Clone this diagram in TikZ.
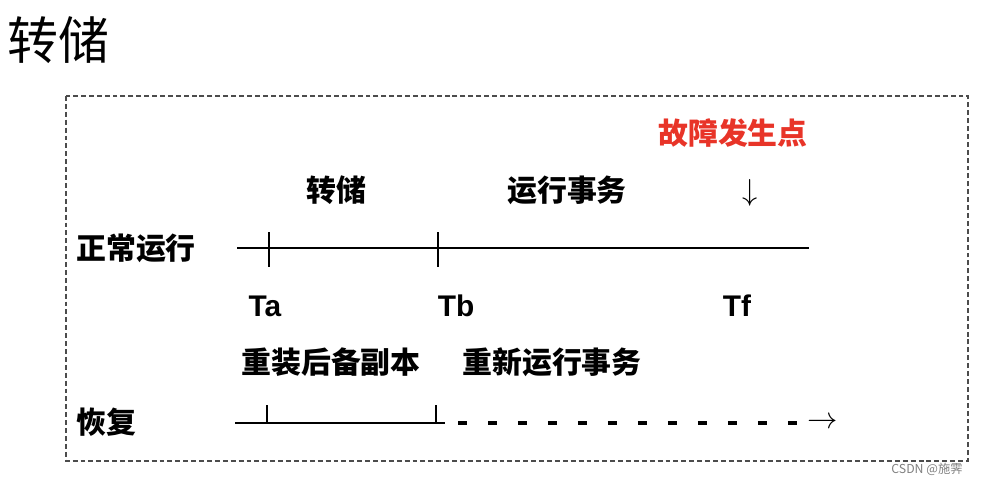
\documentclass[tikz,border=0pt]{standalone}
\usepackage{fontspec}
\usepackage{tikz}
\setmainfont{Noto Sans CJK SC}
\newfontfamily\cjk{Noto Sans CJK SC}
\newfontfamily\latin{Liberation Sans}
\definecolor{faultred}{RGB}{232,52,40}
\definecolor{framegray}{gray}{0.3}
\begin{document}
\begin{tikzpicture}[x=0.02cm,y=-0.02cm,
  lbl/.style={font=\cjk\fontsize{17}{20}\selectfont\bfseries},
  tlbl/.style={font=\latin\fontsize{17}{20}\selectfont\bfseries},
  axis/.style={line width=1.6pt},
  tick/.style={line width=1.4pt},
]
\def\yn{248}\def\yr{423}
\path[use as bounding box] (0,0) rectangle (989,484);
% title and frame
\node[font=\cjk\fontsize{29}{32}\selectfont] (title) at (58,40) {转储};
\draw[framegray,line width=0.8pt,dash pattern=on 2.8pt off 1.7pt] (66,96) rectangle (968,461);
% upper labels
\node[lbl,text=faultred] (fault) at (733,133) {故障发生点};
\node[lbl] (dump) at (336,190) {转储};
\node[lbl] (runtx) at (567,190) {运行事务};
\node[font=\fontsize{17}{20}\selectfont,inner sep=0pt] (down) at (750,193) {$\downarrow$};
% normal run
\node[lbl] (normal) at (136,248) {正常运行};
\coordinate (nstart) at (237,\yn);
\coordinate (nend) at (809,\yn);
\draw[axis] (nstart) -- (nend);
\draw[tick] (269,232) -- (269,267);
\draw[tick] (438,232) -- (438,267);
\node[tlbl] (ta) at (265,306) {Ta};
\node[tlbl] (tb) at (456,306) {Tb};
\node[tlbl] (tf) at (737,306) {Tf};
% recovery
\node[lbl] (reload) at (331,362) {重装后备副本};
\node[lbl] (rerun) at (552,362) {重新运行事务};
\node[lbl] (recover) at (106,422) {恢复};
\coordinate (rstart) at (235,\yr);
\coordinate (rend) at (445,\yr);
\coordinate (rdash) at (458,\yr);
\draw[axis] (rstart) -- (rend);
\draw[tick] (267,405) -- (267,\yr);
\draw[tick] (436,405) -- (436,\yr);
\node[font=\fontsize{17}{20}\selectfont,inner sep=0pt,anchor=west] (arr) at (807,\yr) {$\rightarrow$};
\draw[line width=2.2pt,dash pattern=on 0.18cm off 0.42cm] (rdash) -- (arr.west);
% watermark
\node[font=\cjk\fontsize{7}{8}\selectfont,text=gray] (mark) at (927,469) {CSDN @施霁};
\end{tikzpicture}
\end{document}
